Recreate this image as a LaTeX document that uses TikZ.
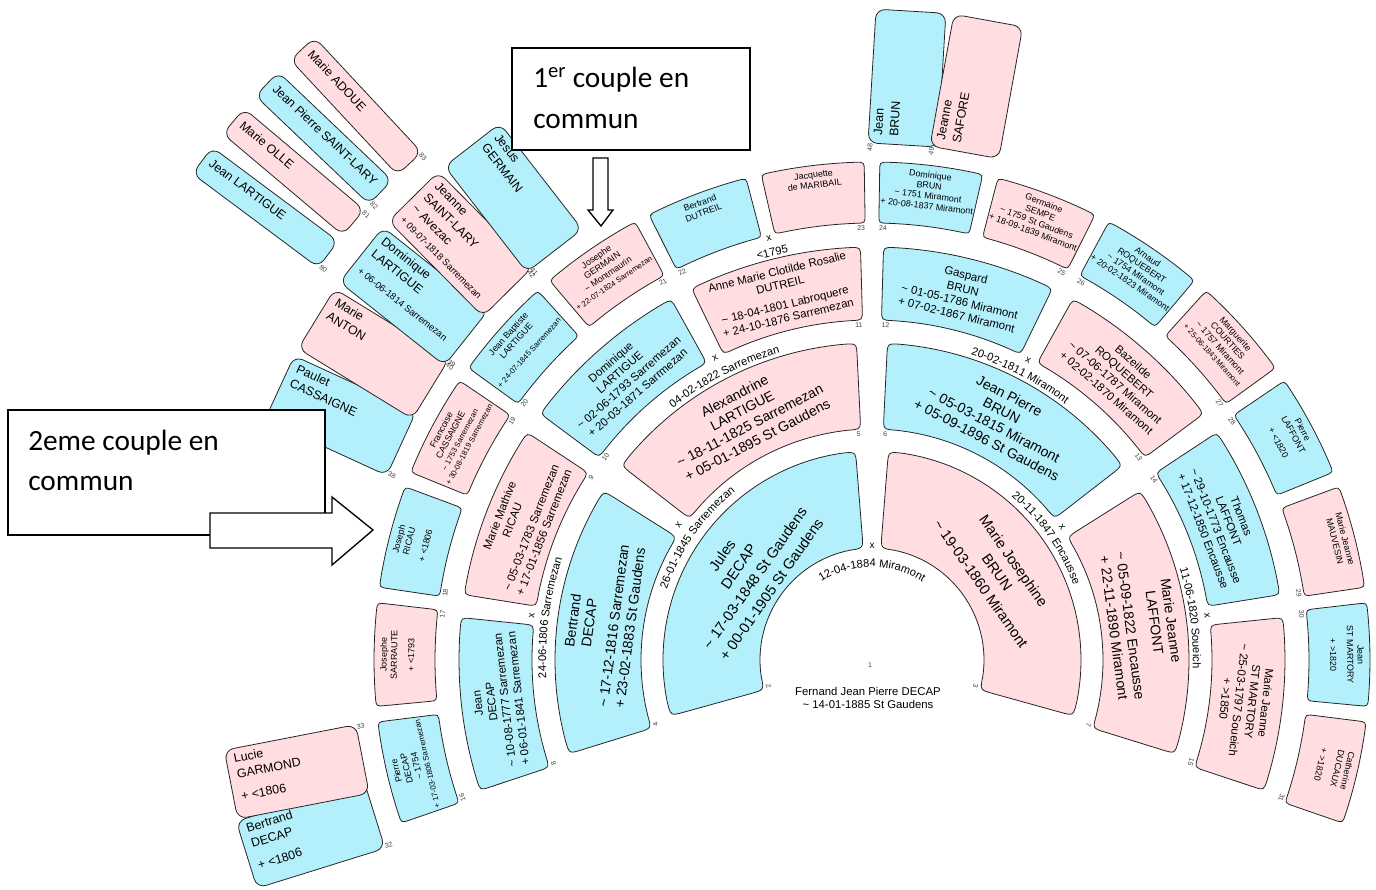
\documentclass[tikz,border=0pt]{standalone}
\usepackage{fontspec}
\setmainfont{Liberation Sans}
\newfontfamily\notefont{Carlito}
\usetikzlibrary{decorations.text}

\definecolor{manblue}{RGB}{180,240,252}
\definecolor{womanpink}{RGB}{255,221,224}

\newcommand{\fs}[2]{\fontsize{#1}{#2}\selectfont}
\newcommand{\tld}{\textasciitilde}
\newcommand{\wedfont}{\fs{8.4}{10}}
\newcommand{\smalldate}{\fs{5.8}{7.2}}
\newcommand{\datefont}{\fs{7.1}{9}}

\tikzset{
  fanbox/.style={draw=black!85, line width=0.6pt},
  man/.style={fanbox, fill=manblue},
  woman/.style={fanbox, fill=womanpink},
  persontext/.style={align=center, inner sep=0pt},
  nummark/.style={font=\fs{5.2}{6}, inner sep=0pt, text=black!75},
  wedmark/.style={font=\fs{7.5}{8}, inner sep=0pt},
  farfont/.style={font=\fs{9.3}{12}, align=left, inner xsep=6pt, inner ysep=4pt},
  notebox/.style={draw, line width=1pt, fill=white},
  notetext/.style={font=\notefont\fs{22}{26}, anchor=base west, inner sep=0pt},
}

% radii, gap, corner, text radius and font of each ring
\newcommand{\genparams}[1]{%
  \ifcase#1\or\or
    \def\Rin{112}\def\Rout{209}\def\Gap{4.5}\def\Rc{14}\def\Rtext{153}\def\Gfont{\fs{11}{15}}%
  \or
    \def\Rin{231}\def\Rout{317}\def\Gap{2.8}\def\Rc{13}\def\Rtext{273}\def\Gfont{\fs{10.5}{12.4}}%
  \or
    \def\Rin{340}\def\Rout{413}\def\Gap{1.6}\def\Rc{11}\def\Rtext{376}\def\Gfont{\fs{8.6}{10.2}}%
  \or
    \def\Rin{437}\def\Rout{498}\def\Gap{0.9}\def\Rc{9}\def\Rtext{492}\def\Gfont{\fs{6.7}{7.8}}%
  \fi}

% ring sector with rounded corners
\newcommand{\fansector}[6]{%
  \pgfmathsetmacro\cornA{#5*57.296/#3}%
  \pgfmathsetmacro\cornB{#5*57.296/#4}%
  \draw[#6] ({#1+\cornA}:#3) arc[start angle={#1+\cornA}, end angle={#2-\cornA}, radius=#3]
    .. controls (#2:#3) .. (#2:{#3+#5}) -- (#2:{#4-#5})
    .. controls (#2:#4) .. ({#2-\cornB}:#4)
    arc[start angle={#2-\cornB}, end angle={#1+\cornB}, radius=#4]
    .. controls (#1:#4) .. (#1:{#4-#5}) -- (#1:{#3+#5})
    .. controls (#1:#3) .. ({#1+\cornA}:#3) -- cycle;}

\newcommand{\ringperson}[4]{%
  \genparams{#1}%
  \pgfmathtruncatemacro\nbox{2^(#1-1)}%
  \pgfmathsetmacro\angHi{200-(#2-\nbox)*220/\nbox}%
  \pgfmathsetmacro\angLo{\angHi-220/\nbox}%
  \pgfmathsetmacro\midang{\angHi-110/\nbox}%
  \pgfmathsetmacro\edgeLo{\angLo+\Gap}%
  \pgfmathsetmacro\edgeHi{\angHi-\Gap}%
  \fansector{\edgeLo}{\edgeHi}{\Rin}{\Rout}{\Rc}{#3}%
  \ifnum#1<5\relax
    \node[persontext, font=\Gfont, rotate=\midang-90] (p#2) at (\midang:\Rtext) {#4};%
  \else
    \node[persontext, font=\Gfont, rotate=\midang-90, anchor=north] (p#2) at (\midang:\Rtext) {#4};%
  \fi
  \ifodd#2\relax
    \node[nummark, rotate=\edgeLo-90, anchor=east] (n#2) at (\edgeLo:{\Rin-5}) {#2};%
  \else
    \node[nummark, rotate=\edgeHi-90, anchor=west] (n#2) at (\edgeHi:{\Rin-5}) {#2};%
  \fi}

\newcommand{\wedding}[6]{%
  \path[decorate, decoration={text along path, text align=center, text={|\wedfont|#6}}]
    ({#2+#5}:#3) arc[start angle={#2+#5}, end angle={#2-#5}, radius=#3];
  \node[wedmark, rotate=#2-90] (#1) at (#2:#4) {x};}

\newcommand{\farperson}[9]{%
  \pgfmathsetmacro\farrot{#2>90 ? #2-180 : #2}%
  \node[#6, rounded corners=7pt, minimum width={#4*0.75pt}, minimum height={#5*0.75pt},
        inner sep=0pt, rotate=\farrot] (b#1) at (#2:#3) {};
  \node[farfont, anchor=north west, rotate=\farrot] (p#1) at (b#1.north west) {#7};
  \node[nummark, anchor=#9, rotate=\farrot] (n#1) at (b#1.#8) {#1};}

\begin{document}
\begin{tikzpicture}[x=0.75pt, y=0.75pt]
\useasboundingbox (-872,-229) rectangle (504,660);

% root
\node[nummark] (n1) at (-2,-5) {1};
\node[align=center, inner sep=0pt, font=\fs{8.5}{9.8}] (p1) at (-4,-38)
  {Fernand Jean Pierre DECAP\\\tld{} 14-01-1885 St Gaudens};

% parents
\ringperson{2}{2}{man}{Jules\\DECAP\\\tld{} 17-03-1848 St Gaudens\\+ 00-01-1905 St Gaudens}
\ringperson{2}{3}{woman}{Marie Josephine\\BRUN\\\tld{} 19-03-1860 Miramont}

% grand parents
\ringperson{3}{4}{man}{Bertrand\\DECAP\\[6pt]\tld{} 17-12-1816 Sarremezan\\+ 23-02-1883 St Gaudens}
\ringperson{3}{5}{woman}{Alexandrine\\LARTIGUE\\\tld{} 18-11-1825 Sarremezan\\+ 05-01-1895 St Gaudens}
\ringperson{3}{6}{man}{Jean Pierre\\BRUN\\\tld{} 05-03-1815 Miramont\\+ 05-09-1896 St Gaudens}
\ringperson{3}{7}{woman}{Marie Jeanne\\LAFFONT\\[6pt]\tld{} 05-09-1822 Encausse\\+ 22-11-1890 Miramont}

% ring 4
\ringperson{4}{8}{man}{Jean\\DECAP\\\tld{} 10-08-1777 Sarremezan\\+ 06-01-1841 Sarremezan}
\ringperson{4}{9}{woman}{Marie Mathive\\RICAU\\[5pt]\tld{} 05-03-1783 Sarremezan\\+ 17-01-1856 Sarremezan}
\ringperson{4}{10}{man}{Dominique\\LARTIGUE\\\tld{} 02-06-1793 Sarremezan\\+ 20-03-1871 Sarrmezan}
\ringperson{4}{11}{woman}{Anne Marie Clotilde Rosalie\\DUTREIL\\[5pt]\tld{} 18-04-1801 Labroquere\\+ 24-10-1876 Sarremezan}
\ringperson{4}{12}{man}{Gaspard\\BRUN\\\tld{} 01-05-1786 Miramont\\+ 07-02-1867 Miramont}
\ringperson{4}{13}{woman}{Bazeilde\\ROQUEBERT\\\tld{} 07-06-1787 Miramont\\+ 02-02-1870 Miramont}
\ringperson{4}{14}{man}{Thomas\\LAFFONT\\\tld{} 29-10-1773 Encausse\\+ 17-12-1850 Encausse}
\ringperson{4}{15}{woman}{Marie Jeanne\\ST MARTORY\\\tld{} 25-03-1797 Soueich\\+ >1850}

% ring 5
\ringperson{5}{16}{man}{Pierre\\DECAP\\\tld{} 1754\\{\smalldate + 17-03-1806 Sarremezan}}
\ringperson{5}{17}{woman}{Josephe\\SARRAUTE\\[5pt]+ <1793}
\ringperson{5}{18}{man}{Joseph\\RICAU\\[5pt]+ <1806}
\ringperson{5}{19}{woman}{Francoise\\CASSAIGNE\\{\smalldate\tld{} 1753 Sarremezan}\\{\smalldate + 30-08-1819 Sarremezan}}
\ringperson{5}{20}{man}{Jean Baptiste\\LARTIGUE\\[5pt]{\smalldate + 24-07-1845 Sarremezan}}
\ringperson{5}{21}{woman}{Josephe\\GERMAIN\\\tld{} Montmaurin\\{\smalldate + 22-07-1824 Sarremezan}}
\ringperson{5}{22}{man}{Bertrand\\DUTREIL}
\ringperson{5}{23}{woman}{Jacquette\\de MARIBAIL}
\ringperson{5}{24}{man}{Dominique\\BRUN\\\tld{} 1751 Miramont\\+ 20-08-1837 Miramont}
\ringperson{5}{25}{woman}{Germaine\\SEMPE\\\tld{} 1759 St Gaudens\\+ 18-09-1839 Miramont}
\ringperson{5}{26}{man}{Arnaud\\ROQUEBERT\\\tld{} 1754 Miramont\\+ 20-02-1823 Miramont}
\ringperson{5}{27}{woman}{Marguerite\\COURTIES\\\tld{} 1757 Miramont\\{\smalldate + 25-06-1843 Miramont}}
\ringperson{5}{28}{man}{Pierre\\LAFFONT\\[5pt]+ <1820}
\ringperson{5}{29}{woman}{Marie Jeanne\\MAUVESIN}
\ringperson{5}{30}{man}{Jean\\ST MARTORY\\[5pt]+ >1820}
\ringperson{5}{31}{woman}{Catherine\\DUCAUX\\[5pt]+ >1820}

% marriages
\wedding{w1}{90}{93}{114}{45}{12-04-1884 Miramont}
\wedding{w2}{145}{217}{236}{22}{26-01-1845 Sarremezan}
\wedding{w3}{35}{215}{232}{22}{20-11-1847 Encausse}
\wedding{w4}{172.5}{326}{343}{18}{24-06-1806 Sarremezan}
\wedding{w5}{117.5}{321}{340}{18}{04-02-1822 Sarremezan}
\wedding{w6}{62.5}{321}{338}{18}{20-02-1811 Miramont}
\wedding{w7}{7.5}{321}{338}{18}{11-06-1820 Soueich}
\wedding{w11}{103.75}{416}{434}{8}{<1795}

% ring 6, only the known ones
\farperson{32}{197.3}{588}{134}{70}{man}{Bertrand\\DECAP\\[5pt]+ <1806}{south east}{south west}
\farperson{33}{191.0}{586}{134}{70}{woman}{Lucie\\GARMOND\\[5pt]+ <1806}{north east}{north west}
\farperson{38}{155.31}{585}{134}{70}{man}{Paulet\\CASSAIGNE}{south east}{south west}
\farperson{39}{148.44}{585}{134}{70}{woman}{Marie\\ANTON}{north east}{north west}
\farperson{40}{141.56}{585}{134}{70}{man}{Dominique\\LARTIGUE\\[4pt]{\datefont + 06-06-1814 Sarremezan}}{south east}{south west}
\farperson{41}{134.69}{585}{134}{70}{woman}{Jeanne\\SAINT-LARY\\\tld{} Avezac\\{\datefont + 09-07-1818 Sarremezan}}{north east}{north west}
\farperson{42}{127.81}{585}{134}{70}{man}{Jesus\\GERMAIN}{south east}{south west}
\farperson{48}{86.56}{583}{134}{70}{man}{Jean\\BRUN}{north west}{north east}
\farperson{49}{79.69}{583}{134}{70}{woman}{Jeanne\\SAFORE}{north west}{north east}

% ring 7
\begin{scope}[farfont/.append style={inner ysep=6.5pt}]
\farperson{80}{143.28}{757}{157}{33}{man}{Jean LARTIGUE}{south east}{south west}
\farperson{81}{139.84}{757}{157}{33}{woman}{Marie OLLE}{north east}{north west}
\farperson{82}{136.41}{757}{157}{33}{man}{Jean Pierre SAINT-LARY}{south east}{south west}
\farperson{83}{132.97}{757}{157}{33}{woman}{Marie ADOUE}{north east}{north west}
\end{scope}

% notes
\draw[notebox] (-360,612) rectangle (-122,510);
\node[notetext] (noteA1) at (-339,572) {1\textsuperscript{er} couple en};
\node[notetext] (noteA2) at (-339,531) {commun};
\draw[notebox, line join=miter] (-279,502) -- (-279,450) -- (-284,450) -- (-271,434)
  -- (-259,450) -- (-264,450) -- (-264,502) -- cycle;

\draw[notebox] (-864,250) rectangle (-547,125);
\node[notetext] (noteB1) at (-844,210) {2eme couple en};
\node[notetext] (noteB2) at (-844,170) {commun};
\draw[notebox, line join=miter] (-662,147) -- (-540,147) -- (-540,163) -- (-499,130)
  -- (-540,95) -- (-540,112) -- (-662,112) -- cycle;
\end{tikzpicture}
\end{document}
